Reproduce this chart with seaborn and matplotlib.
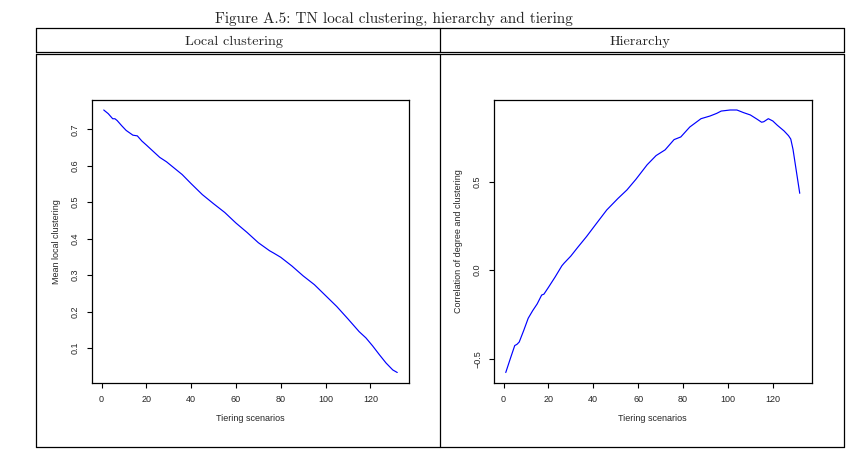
import matplotlib
matplotlib.use("Agg")
import matplotlib.pyplot as plt
import seaborn as sns
import numpy as np
import pandas as pd
from matplotlib.lines import Line2D

# mean local clustering per tiering scenario
clus_x = [1, 3, 5, 6, 7, 9, 11, 14, 16, 18, 20, 23, 26, 29, 32, 36, 40, 45, 50, 55,
          60, 65, 70, 75, 77, 80, 85, 90, 95, 100, 105, 110, 115, 118, 121, 124, 127, 130, 132]
clus_y = [0.753, 0.743, 0.729, 0.729, 0.724, 0.710, 0.697, 0.684, 0.682, 0.668, 0.657,
          0.640, 0.623, 0.611, 0.596, 0.576, 0.551, 0.521, 0.496, 0.472, 0.443, 0.417,
          0.389, 0.367, 0.360, 0.349, 0.325, 0.298, 0.274, 0.244, 0.214, 0.180, 0.145,
          0.128, 0.106, 0.082, 0.059, 0.040, 0.033]

# correlation of degree and clustering per tiering scenario
hier_x = [1, 3, 5, 6, 7, 9, 11, 13, 15, 17, 18, 20, 23, 26, 27, 30, 33, 37, 41, 46, 51,
          55, 59, 64, 68, 72, 76, 79, 83, 88, 92, 95, 97, 101, 104, 107, 110, 113, 115,
          116, 118, 120, 122, 125, 127, 128, 129, 132]
hier_y = [-0.577, -0.500, -0.425, -0.418, -0.405, -0.340, -0.271, -0.228, -0.190, -0.140,
          -0.135, -0.097, -0.038, 0.025, 0.040, 0.080, 0.128, 0.190, 0.257, 0.340, 0.405,
          0.453, 0.513, 0.595, 0.647, 0.679, 0.737, 0.752, 0.808, 0.855, 0.870, 0.885,
          0.898, 0.904, 0.904, 0.889, 0.876, 0.852, 0.835, 0.838, 0.855, 0.842, 0.818,
          0.786, 0.759, 0.740, 0.682, 0.434]

x_ticks = [0, 20, 40, 60, 80, 100, 120]
clus_ticks = [0.1, 0.2, 0.3, 0.4, 0.5, 0.6, 0.7]
hier_ticks = [-0.5, 0.0, 0.5]

sns.set_style("ticks")
plt.rcParams['font.family'] = ['Liberation Sans', 'DejaVu Sans']

W, H = 859, 457
fig = plt.figure(figsize=(W / 100, H / 100), dpi=100)


def box(x0, y0, x1, y1):
    return [x0 / W, 1 - y1 / H, (x1 - x0) / W, (y1 - y0) / H]


def hline(x0, x1, y):
    fig.add_artist(Line2D([x0 / W, x1 / W], [1 - y / H, 1 - y / H],
                          transform=fig.transFigure, color='black', lw=0.9))


def vline(x, y0, y1):
    fig.add_artist(Line2D([x / W, x / W], [1 - y0 / H, 1 - y1 / H],
                          transform=fig.transFigure, color='black', lw=0.9))


# table frame around the two panels
L, R, M = 36, 843.5, 440.3
for y in [28.3, 51.7, 54.3, 446.5]:
    hline(L, R, y)
for x in [L, M, R]:
    vline(x, 28.3, 51.7)
    vline(x, 54.3, 446.5)

cm = ['cmr10', 'DejaVu Serif']
fig.text(394 / W, 1 - 23 / H, "Figure A.5: TN local clustering, hierarchy and tiering",
         ha='center', va='baseline', fontsize=11, family=cm)
fig.text(234 / W, 1 - 44.5 / H, "Local clustering", ha='center', va='baseline',
         fontsize=10.2, family=cm)
fig.text(640.5 / W, 1 - 44.5 / H, "Hierarchy", ha='center', va='baseline',
         fontsize=10.2, family=cm)


def r_panel(ax, x, y, yticks, ylabel):
    df = pd.DataFrame({'x': x, 'y': y})
    sns.lineplot(data=df, x='x', y='y', ax=ax, color='#0000ff', lw=0.85)
    xr = max(x) - min(x)
    ax.set_xlim(min(x) - 0.04 * xr, max(x) + 0.04 * xr)
    yr = max(y) - min(y)
    ax.set_ylim(min(y) - 0.04 * yr, max(y) + 0.04 * yr)
    ax.set_xticks(x_ticks)
    ax.set_yticks(yticks)
    ax.set_yticklabels([f"{t:.1f}".replace('-', '\u2212') for t in yticks],
                       rotation=90, va='center')
    ax.tick_params(axis='both', length=3.6, width=0.8, pad=5, labelsize=6.5, color='black')
    for s in ax.spines.values():
        s.set_visible(True)
        s.set_linewidth(0.9)
        s.set_color('black')
    ax.set_xlabel("Tiering scenarios", fontsize=6.5, labelpad=7)
    ax.set_ylabel(ylabel, fontsize=6.5, labelpad=7)


ax1 = fig.add_axes(box(92, 99.5, 409, 383))
r_panel(ax1, clus_x, clus_y, clus_ticks, "Mean local clustering")

ax2 = fig.add_axes(box(494, 99.5, 811.5, 383))
r_panel(ax2, hier_x, hier_y, hier_ticks, "Correlation of degree and clustering")

fig.savefig("out.png", dpi=100)
